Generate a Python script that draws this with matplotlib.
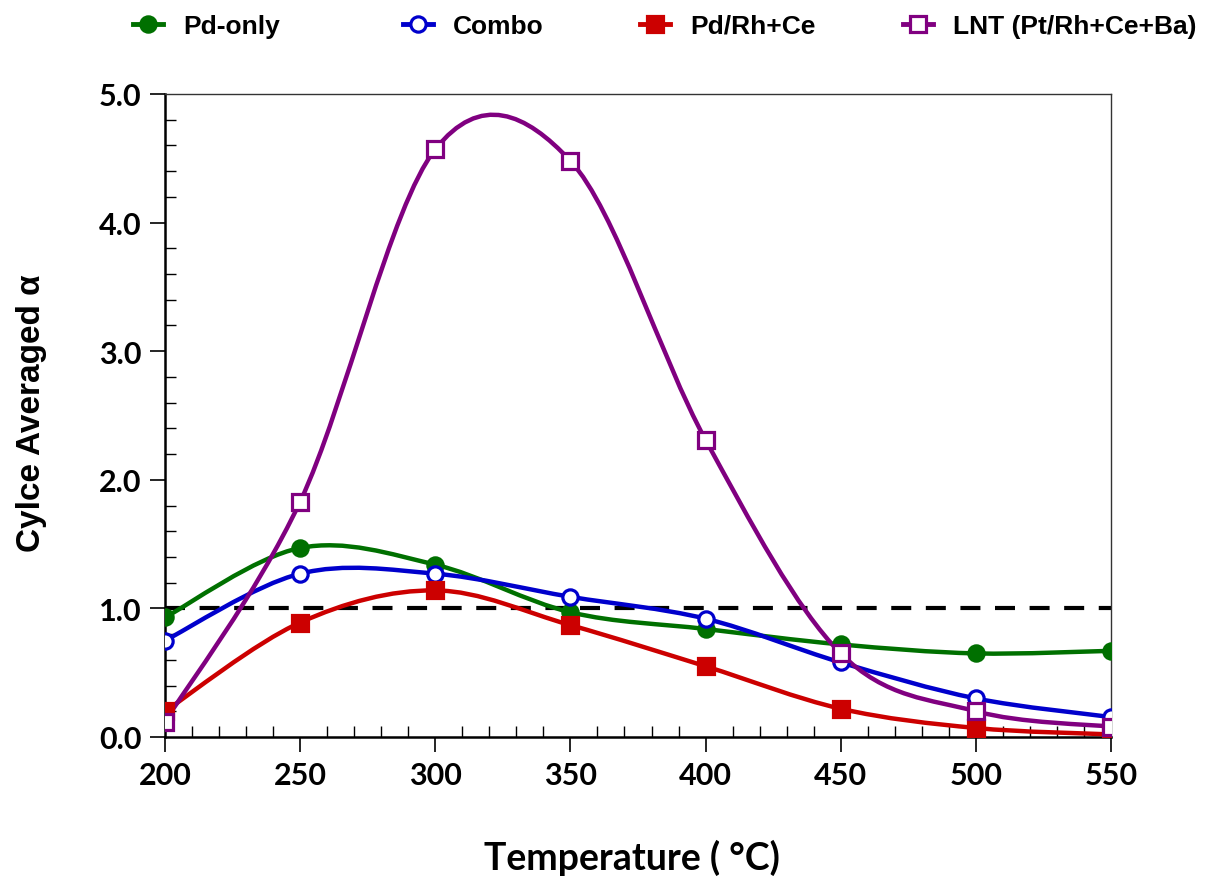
import matplotlib.pyplot as plt
import numpy as np
from matplotlib.path import Path
from matplotlib.patches import PathPatch
from matplotlib.lines import Line2D
from matplotlib.ticker import MultipleLocator

temps = [200, 250, 300, 350, 400, 450, 500, 550]
pd_only = [0.93, 1.47, 1.34, 0.97, 0.84, 0.72, 0.65, 0.67]
combo = [0.75, 1.27, 1.27, 1.09, 0.92, 0.58, 0.30, 0.155]
pd_rh_ce = [0.20, 0.89, 1.14, 0.87, 0.55, 0.22, 0.07, 0.02]
lnt = [0.12, 1.83, 4.57, 4.48, 2.31, 0.65, 0.20, 0.08]

labels = ['Pd-only', 'Combo', 'Pd/Rh+Ce', 'LNT (Pt/Rh+Ce+Ba)']
colors = ['#007000', '#0000CC', '#CC0000', '#800080']
markers = ['o', 'o', 's', 's']
filled = [True, False, True, False]
reference_line = 1.0

# where each legend entry starts (figure pixels)
legend_x = [133, 403, 640, 903]


def smooth_path(x, y):
    # excel-style smoothed line: cubic bezier, catmull-rom control points
    pts = np.column_stack([x, y]).astype(float)
    n = len(pts)
    verts = [pts[0]]
    codes = [Path.MOVETO]
    for i in range(n - 1):
        p_prev = pts[max(i - 1, 0)]
        p0 = pts[i]
        p1 = pts[i + 1]
        p_next = pts[min(i + 2, n - 1)]
        c1 = p0 + (p1 - p_prev) / 6
        c2 = p1 - (p_next - p0) / 6
        verts += [c1, c2, p1]
        codes += [Path.CURVE4] * 3
    return Path(verts, codes)


fig = plt.figure(figsize=(12.08, 8.79), dpi=100)
ax = fig.add_axes([165 / 1208, 1 - 738 / 879, 946 / 1208, 643 / 879])

ax.axhline(reference_line, color='black', lw=3, dashes=(4.8, 3.5), zorder=2)

series = [pd_only, combo, pd_rh_ce, lnt]
for vals, lab, c, m, f, lx in zip(series, labels, colors, markers, filled, legend_x):
    patch = PathPatch(smooth_path(temps, vals), fill=False, edgecolor=c,
                      lw=3.2, zorder=3, capstyle='round')
    ax.add_patch(patch)
    ax.plot(temps, vals, ls='none', marker=m, ms=11,
            mfc=c if f else 'white', mec=c, mew=2.3, zorder=4)
    h = Line2D([], [], color=c, lw=3.5, marker=m, ms=11,
               mfc=c if f else 'white', mec=c, mew=2.3)
    fig.legend([h], [lab], loc='center left',
               bbox_to_anchor=(lx / 1208, 1 - 27 / 879), frameon=False,
               borderpad=0, borderaxespad=0,
               handlelength=1.15, handletextpad=0.75,
               prop={'family': 'Liberation Sans', 'weight': 'bold', 'size': 19})

ax.set_xlim(200, 550)
ax.set_ylim(0, 5)
ax.xaxis.set_major_locator(MultipleLocator(50))
ax.xaxis.set_minor_locator(MultipleLocator(10))
ax.yaxis.set_major_locator(MultipleLocator(1))
ax.yaxis.set_minor_locator(MultipleLocator(0.2))
ax.yaxis.set_major_formatter(plt.FormatStrFormatter('%.1f'))

ax.tick_params(which='major', direction='out', length=11, width=1.2,
               labelsize=22, pad=6)
ax.tick_params(which='minor', direction='in', length=8, width=1)
for lbl in ax.get_xticklabels() + ax.get_yticklabels():
    lbl.set_fontfamily('Lato')
    lbl.set_fontweight('bold')

ax.spines['left'].set_linewidth(1.8)
ax.spines['bottom'].set_linewidth(1.8)
ax.spines['top'].set_linewidth(1)
ax.spines['right'].set_linewidth(1)
ax.spines['top'].set_color('#333333')
ax.spines['right'].set_color('#333333')

fig.text(32 / 1208, 1 - 413 / 879, 'Cylce Averaged α', rotation=90,
         ha='center', va='center', fontsize=24, fontweight='bold',
         family=['Liberation Sans', 'DejaVu Sans'])
fig.text(632 / 1208, 1 - 858 / 879, 'Temperature ( °C)', ha='center',
         va='center', fontsize=27, fontweight='bold', family='Lato')

fig.savefig('out.png', dpi=100)
